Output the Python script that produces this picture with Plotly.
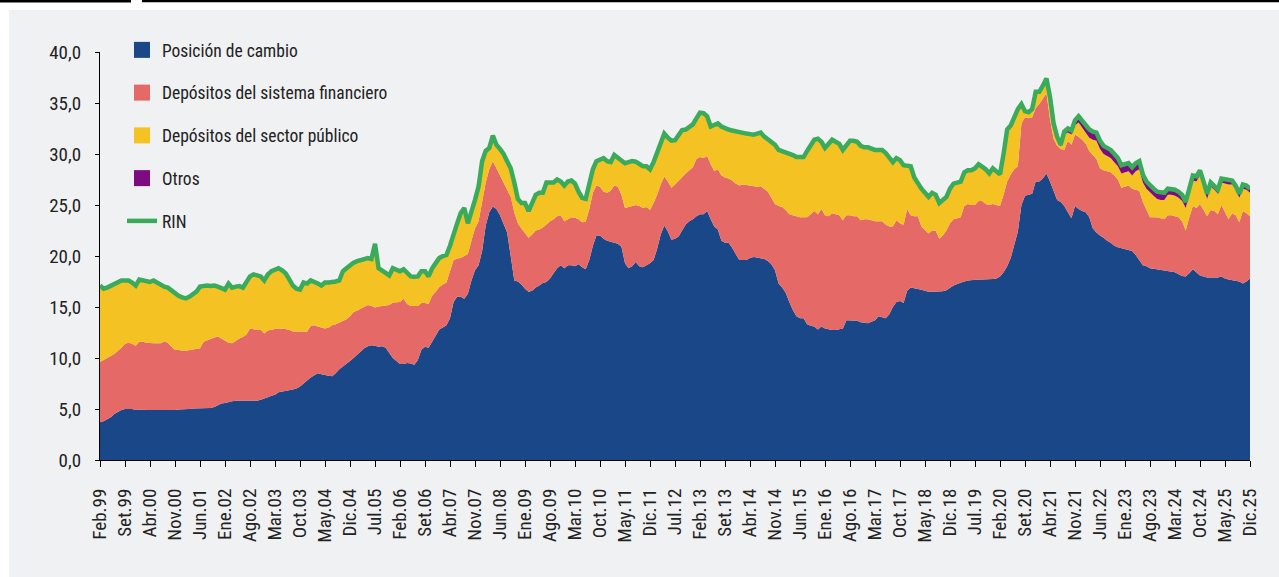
import plotly.graph_objects as go

# ---------------- data (US$ miles de millones, mensual, Feb.99 - Dic.25) ----------------
meses = ["Ene", "Feb", "Mar", "Abr", "May", "Jun", "Jul", "Ago", "Set", "Oct", "Nov", "Dic"]
fechas = [f"{meses[m]}.{y % 100:02d}" for y in range(1999, 2026) for m in range(12)
          if not (y == 1999 and m == 0)]

tick_labels = ["Feb.99", "Set.99", "Abr.00", "Nov.00", "Jun.01", "Ene.02", "Ago.02", "Mar.03",
               "Oct.03", "May.04", "Dic.04", "Jul.05", "Feb.06", "Set.06", "Abr.07", "Nov.07",
               "Jun.08", "Ene.09", "Ago.09", "Mar.10", "Oct.10", "May.11", "Dic.11", "Jul.12",
               "Feb.13", "Set.13", "Abr.14", "Nov.14", "Jun.15", "Ene.16", "Ago.16", "Mar.17",
               "Oct.17", "May.18", "Dic.18", "Jul.19", "Feb.20", "Set.20", "Abr.21", "Nov.21",
               "Jun.22", "Ene.23", "Ago.23", "Mar.24", "Oct.24", "May.25", "Dic.25"]

posicion_cambio = [
    3.7, 3.8, 4.0, 4.2, 4.5, 4.7, 4.9, 5.0, 5.0, 5.0, 4.9,
    4.95, 4.95, 4.9, 4.9, 4.9, 4.9, 4.85, 4.85, 4.9, 4.9, 4.9, 4.95,
    4.95, 5.0, 5.0, 5.05, 5.05, 5.05, 5.1, 5.1, 5.1, 5.2, 5.4, 5.55,
    5.6, 5.7, 5.75, 5.8, 5.8, 5.8, 5.8, 5.8, 5.75, 5.8, 5.9, 6.0,
    6.15, 6.3, 6.4, 6.65, 6.7, 6.75, 6.8, 6.9, 7.0, 7.2, 7.5, 7.8,
    8.1, 8.3, 8.5, 8.4, 8.3, 8.25, 8.2, 8.5, 8.9, 9.15, 9.4, 9.7,
    10.0, 10.35, 10.7, 10.95, 11.15, 11.25, 11.2, 11.1, 11.15, 11.0, 10.5, 10.0,
    9.7, 9.4, 9.4, 9.5, 9.45, 9.35, 9.8, 10.8, 11.1, 11.0, 11.6, 12.2,
    12.8, 13.0, 13.2, 13.9, 15.5, 16.0, 16.0, 15.8, 16.3, 17.6, 18.6, 19.1,
    20.5, 23.0, 24.3, 24.85, 24.6, 24.0, 23.2, 22.3, 20.0, 17.6, 17.5, 17.2,
    16.8, 16.5, 16.6, 16.9, 17.1, 17.35, 17.45, 17.8, 18.3, 18.8, 19.1, 18.8,
    19.1, 19.1, 19.0, 19.2, 18.9, 18.7, 19.6, 21.0, 22.0, 22.0, 21.7, 21.5,
    21.4, 21.3, 21.2, 20.9, 19.3, 18.8, 19.0, 19.4, 19.0, 18.9, 19.1, 19.3,
    19.6, 20.7, 22.1, 23.0, 22.4, 21.6, 21.7, 21.9, 22.5, 23.1, 23.4, 23.6,
    23.9, 24.1, 24.1, 24.4, 23.6, 22.9, 22.6, 21.5, 21.3, 21.3, 20.8, 20.2,
    19.6, 19.6, 19.6, 19.8, 19.9, 19.85, 19.8, 19.7, 19.5, 19.2, 18.6, 17.3,
    16.9, 16.4, 15.5, 14.7, 14.1, 13.9, 13.9, 13.3, 13.15, 13.1, 12.8, 13.1,
    12.9, 12.8, 12.75, 12.75, 12.8, 12.9, 13.7, 13.7, 13.7, 13.65, 13.5, 13.45,
    13.4, 13.55, 13.7, 14.1, 14.0, 13.9, 14.3, 15.0, 15.5, 15.6, 15.4, 16.6,
    16.9, 16.85, 16.75, 16.7, 16.6, 16.5, 16.5, 16.5, 16.5, 16.55, 16.65, 16.9,
    17.1, 17.25, 17.4, 17.5, 17.6, 17.65, 17.7, 17.7, 17.7, 17.7, 17.7, 17.75,
    17.8, 18.0, 18.4, 19.0, 19.8, 21.0, 22.4, 25.0, 25.9, 26.0, 26.1, 27.3,
    27.3, 27.6, 28.1, 27.3, 26.3, 25.5, 25.3, 24.9, 24.3, 23.7, 24.9, 24.6,
    24.4, 24.3, 23.8, 22.7, 22.3, 22.0, 21.8, 21.5, 21.3, 21.0, 20.85, 20.75,
    20.7, 20.6, 20.5, 20.1, 19.6, 19.1, 19.0, 18.8, 18.75, 18.7, 18.6, 18.6,
    18.55, 18.5, 18.4, 18.2, 18.05, 18.0, 18.3, 18.7, 18.4, 18.1, 18.0, 17.9,
    17.9, 17.9, 17.9, 18.0, 17.8, 17.7, 17.65, 17.6, 17.5, 17.3, 17.5, 17.8,
]

depositos_sistema_financiero = [
    5.9, 6.0, 6.0, 6.0, 5.9, 6.0, 6.1, 6.4, 6.5, 6.4, 6.3,
    6.65, 6.65, 6.6, 6.55, 6.55, 6.55, 6.6, 6.8, 6.6, 6.2, 5.9, 5.85,
    5.75, 5.7, 5.75, 5.8, 5.85, 5.9, 6.5, 6.65, 6.8, 6.8, 6.7, 6.35,
    6.1, 5.8, 5.7, 5.9, 6.1, 6.25, 6.5, 7.1, 7.05, 6.95, 6.9, 6.4,
    6.55, 6.5, 6.45, 6.25, 6.2, 6.1, 5.95, 5.7, 5.6, 5.4, 5.1, 4.8,
    5.05, 4.9, 4.6, 4.6, 4.6, 4.75, 5.0, 4.8, 4.55, 4.45, 4.4, 4.4,
    4.5, 4.3, 4.15, 4.05, 4.05, 3.85, 3.75, 3.95, 3.95, 4.1, 4.7, 5.45,
    5.8, 6.1, 6.4, 5.8, 5.65, 5.75, 5.3, 4.6, 4.3, 4.3, 4.5, 4.3,
    4.15, 4.2, 4.2, 4.6, 4.1, 3.75, 3.8, 4.2, 3.9, 3.9, 4.1, 4.3,
    5.0, 4.2, 4.2, 4.45, 4.0, 3.9, 3.9, 4.2, 5.8, 6.7, 5.7, 5.5,
    5.4, 5.3, 5.5, 5.6, 5.5, 5.45, 5.65, 5.6, 5.3, 5.1, 4.9, 4.6,
    4.5, 4.7, 4.75, 4.4, 4.4, 4.65, 5.0, 5.2, 4.9, 4.8, 4.6, 4.7,
    5.0, 5.6, 5.6, 5.1, 5.4, 6.0, 5.9, 5.6, 5.9, 5.8, 5.7, 5.2,
    5.6, 5.3, 4.9, 4.8, 4.9, 5.1, 5.3, 5.5, 5.3, 5.0, 5.0, 5.1,
    5.6, 5.6, 5.5, 5.4, 5.4, 5.4, 5.9, 6.4, 6.4, 6.3, 6.6, 6.9,
    7.3, 7.4, 7.35, 7.1, 6.9, 6.95, 7.05, 6.9, 6.8, 6.5, 6.5, 7.6,
    7.9, 8.1, 8.6, 9.3, 9.8, 9.9, 9.9, 10.5, 10.95, 11.3, 11.3, 11.5,
    11.1, 11.1, 11.45, 11.35, 11.2, 10.6, 10.3, 10.3, 10.2, 10.25, 10.0, 10.15,
    10.2, 9.95, 9.7, 9.3, 9.4, 9.2, 8.6, 7.9, 8.0, 7.6, 7.65, 8.0,
    7.1, 7.05, 7.15, 6.2, 5.9, 5.7, 6.0, 6.0, 5.2, 5.45, 5.85, 6.3,
    6.5, 6.45, 6.4, 7.4, 7.5, 7.35, 7.3, 7.7, 7.7, 7.4, 7.3, 7.35,
    7.2, 6.9, 7.6, 8.3, 8.2, 7.5, 6.4, 8.0, 7.7, 7.5, 7.5, 7.2,
    7.6, 7.8, 7.85, 6.1, 5.2, 5.3, 5.2, 5.5, 7.0, 7.2, 7.0, 7.1,
    7.0, 6.7, 6.5, 7.2, 7.2, 6.6, 6.6, 6.8, 6.9, 6.9, 6.65, 5.95,
    6.1, 6.3, 6.1, 6.4, 6.8, 6.2, 5.5, 5.0, 5.05, 5.1, 5.1, 5.0,
    5.45, 5.5, 5.5, 5.6, 5.35, 4.5, 5.5, 6.2, 6.3, 7.0, 6.5, 6.0,
    6.6, 6.5, 6.2, 7.0, 6.5, 5.9, 6.55, 6.4, 5.8, 7.1, 6.7, 6.1,
]

depositos_sector_publico = [
    7.5, 7.0, 6.9, 6.9, 6.9, 6.8, 6.6, 6.2, 6.1, 6.0, 5.9,
    6.1, 6.0, 6.0, 6.0, 6.15, 5.95, 5.65, 5.35, 5.4, 5.5, 5.5, 5.3,
    5.25, 5.15, 5.25, 5.35, 5.6, 6.05, 5.5, 5.35, 5.15, 5.1, 4.9, 4.9,
    5.0, 5.8, 5.45, 5.3, 5.15, 4.85, 5.2, 5.1, 5.4, 5.4, 5.2, 5.2,
    5.5, 5.7, 5.85, 5.9, 5.7, 5.45, 4.95, 4.5, 4.2, 4.1, 4.8, 4.7,
    4.45, 4.3, 4.2, 4.1, 4.5, 4.4, 4.2, 4.2, 4.15, 4.9, 5.0, 5.0,
    4.85, 4.85, 4.75, 4.7, 4.6, 4.6, 6.25, 3.75, 3.5, 3.3, 2.9, 3.35,
    3.2, 3.0, 2.9, 3.1, 2.9, 2.87, 2.9, 3.1, 3.1, 2.7, 2.7, 2.8,
    2.85, 2.8, 2.7, 2.5, 2.6, 3.45, 4.4, 4.7, 3.0, 2.7, 2.8, 3.4,
    3.8, 3.1, 2.1, 2.5, 2.3, 2.6, 2.9, 2.8, 2.8, 2.9, 2.4, 2.5,
    3.0, 2.6, 3.2, 3.5, 3.6, 3.4, 4.1, 3.8, 3.6, 3.6, 3.3, 3.5,
    3.7, 3.6, 3.35, 2.7, 2.4, 2.25, 2.6, 2.3, 2.4, 2.7, 3.3, 3.1,
    2.8, 3.0, 2.8, 3.3, 4.4, 4.4, 4.4, 4.25, 4.1, 4.1, 4.0, 4.0,
    4.0, 4.1, 4.2, 4.2, 4.3, 4.6, 4.35, 4.4, 4.55, 4.3, 4.2, 4.2,
    4.0, 4.35, 4.4, 3.9, 3.7, 4.6, 4.5, 4.8, 4.8, 4.8, 4.9, 5.1,
    5.2, 5.1, 5.05, 5.05, 5.1, 5.2, 5.25, 5.1, 5.1, 5.4, 5.8, 5.5,
    5.5, 5.7, 6.0, 5.9, 5.8, 5.9, 5.9, 6.5, 6.8, 7.0, 7.4, 6.6,
    6.6, 7.1, 7.2, 7.1, 7.0, 6.9, 6.9, 7.3, 7.4, 7.3, 7.3, 7.06,
    7.06, 7.0, 7.0, 7.0, 7.0, 7.0, 6.7, 6.3, 6.1, 6.2, 5.85, 4.2,
    4.8, 3.8, 3.2, 3.7, 3.7, 3.6, 3.7, 3.5, 3.5, 3.5, 3.3, 3.4,
    3.5, 3.5, 3.5, 3.3, 3.3, 3.4, 3.6, 3.6, 3.4, 3.4, 3.1, 3.5,
    3.3, 3.1, 4.0, 5.1, 4.8, 5.2, 5.6, 1.9, 0.6, 0.6, 0.8, 1.6,
    1.2, 1.3, 1.45, 2.2, 1.5, 0.7, 0.2, 1.5, 0.8, 1.0, 0.9, 1.4,
    1.2, 1.0, 1.3, 1.5, 1.8, 1.9, 1.6, 1.5, 1.4, 1.3, 1.3, 1.4,
    1.4, 1.4, 1.3, 1.8, 2.1, 1.9, 2.1, 2.4, 2.1, 1.8, 1.8, 1.9,
    2.0, 2.0, 2.0, 1.9, 2.0, 2.2, 2.3, 2.5, 2.6, 2.8, 2.3, 1.7,
    2.3, 2.1, 2.0, 2.2, 2.8, 3.4, 2.8, 2.5, 2.4, 2.2, 2.3, 2.3,
]

otros = [
    0, 0, 0, 0, 0, 0, 0, 0, 0, 0, 0,
    0, 0, 0, 0, 0, 0, 0, 0, 0, 0, 0, 0,
    0, 0, 0, 0, 0, 0, 0, 0, 0, 0, 0, 0,
    0, 0, 0, 0, 0, 0, 0, 0, 0, 0, 0, 0,
    0, 0, 0, 0, 0, 0, 0, 0, 0, 0, 0, 0,
    0, 0, 0, 0, 0, 0, 0, 0, 0, 0, 0, 0,
    0, 0, 0, 0, 0, 0, 0, 0, 0, 0, 0, 0,
    0, 0, 0, 0, 0, 0, 0, 0, 0, 0, 0, 0,
    0, 0, 0, 0, 0, 0, 0, 0, 0, 0, 0, 0,
    0, 0, 0, 0, 0, 0, 0, 0, 0, 0, 0, 0,
    0, 0, 0, 0, 0, 0, 0, 0, 0, 0, 0, 0,
    0, 0, 0, 0, 0, 0, 0, 0, 0, 0, 0, 0,
    0, 0, 0, 0, 0, 0, 0, 0, 0, 0, 0, 0,
    0, 0, 0, 0, 0, 0, 0, 0, 0, 0, 0, 0,
    0, 0, 0, 0, 0, 0, 0, 0, 0, 0, 0, 0,
    0, 0, 0, 0, 0, 0, 0, 0, 0, 0, 0, 0,
    0, 0, 0, 0, 0, 0, 0, 0, 0, 0, 0, 0,
    0, 0, 0, 0, 0, 0, 0, 0, 0, 0, 0, 0,
    0, 0, 0, 0, 0, 0, 0, 0, 0, 0, 0, 0,
    0, 0, 0, 0, 0, 0, 0, 0, 0, 0, 0, 0,
    0, 0, 0, 0, 0, 0, 0, 0, 0, 0, 0, 0,
    0, 0, 0, 0, 0, 0, 0, 0, 0, 0, 0, 0,
    0, 0, 0, 0, 0, 0.2, 0.2, 0.3, 0.4, 0.4, 0.5, 0.6,
    0.7, 0.8, 0.8, 0.8, 0.8, 0.8, 0.8, 0.8, 0.8, 0.8, 0.8, 0.8,
    0.8, 0.8, 0.8, 0.8, 0.8, 0.8, 0.7, 0.7, 0.7, 0.7, 0.7, 0.7,
    0.6, 0.6, 0.6, 0.6, 0.6, 0.6, 0.5, 0.5, 0.5, 0.5, 0.5, 0.5,
    0.4, 0.4, 0.4, 0.4, 0.4, 0.4, 0.4, 0.4, 0.4, 0.4, 0.4, 0.4,
]

rin = [
    17.1, 16.8, 16.9, 17.1, 17.3, 17.5, 17.6, 17.6, 17.6, 17.4, 17.1,
    17.7, 17.6, 17.5, 17.45, 17.6, 17.4, 17.1, 17.0, 16.9, 16.6, 16.3, 16.1,
    15.95, 15.85, 16.0, 16.2, 16.5, 17.0, 17.1, 17.1, 17.05, 17.1, 17.0, 16.8,
    16.7, 17.3, 16.9, 17.0, 17.05, 16.9, 17.5, 18.0, 18.2, 18.15, 18.0, 17.6,
    18.2, 18.5, 18.7, 18.8, 18.6, 18.3, 17.7, 17.1, 16.8, 16.7, 17.4, 17.3,
    17.6, 17.5, 17.3, 17.1, 17.4, 17.4, 17.4, 17.5, 17.6, 18.5, 18.8, 19.1,
    19.35, 19.5, 19.6, 19.7, 19.8, 19.7, 21.2, 18.8, 18.6, 18.4, 18.1, 18.8,
    18.7, 18.5, 18.7, 18.4, 18.0, 17.97, 18.0, 18.5, 18.5, 18.0, 18.8, 19.3,
    19.8, 20.0, 20.1, 21.0, 22.2, 23.2, 24.2, 24.7, 23.2, 24.2, 25.5, 26.8,
    29.3, 30.3, 30.6, 31.8, 30.9, 30.5, 30.0, 29.3, 28.6, 27.2, 25.6, 25.2,
    25.2, 24.4, 25.3, 26.0, 26.2, 26.2, 27.2, 27.2, 27.2, 27.5, 27.3, 26.9,
    27.3, 27.4, 27.1, 26.3, 25.7, 25.6, 27.2, 28.5, 29.3, 29.5, 29.6, 29.3,
    29.2, 29.9, 29.6, 29.3, 29.1, 29.2, 29.3, 29.25, 29.0, 28.8, 28.8, 28.5,
    29.2, 30.1, 31.2, 32.0, 31.6, 31.3, 31.35, 31.8, 32.35, 32.4, 32.6, 32.9,
    33.5, 34.05, 34.0, 33.7, 32.7, 32.9, 33.0, 32.7, 32.5, 32.4, 32.3, 32.2,
    32.1, 32.1, 32.0, 31.95, 31.9, 32.0, 32.1, 31.7, 31.4, 31.1, 30.9, 30.4,
    30.3, 30.2, 30.1, 29.9, 29.7, 29.7, 29.7, 30.3, 30.9, 31.4, 31.5, 31.2,
    30.6, 31.0, 31.4, 31.2, 31.0, 30.4, 30.9, 31.3, 31.3, 31.2, 30.8, 30.66,
    30.66, 30.5, 30.4, 30.4, 30.4, 30.1, 29.6, 29.2, 29.6, 29.4, 28.9, 28.8,
    28.8, 27.7, 27.1, 26.6, 26.2, 25.8, 26.2, 26.0, 25.2, 25.5, 25.8, 26.6,
    27.1, 27.2, 27.3, 28.2, 28.4, 28.4, 28.6, 29.0, 28.8, 28.5, 28.1, 28.6,
    28.3, 28.0, 30.0, 32.4, 32.8, 33.7, 34.4, 34.9, 34.2, 34.1, 34.4, 36.1,
    36.1, 36.7, 37.4, 35.6, 33.0, 31.7, 30.9, 32.2, 32.5, 32.3, 33.3, 33.7,
    33.3, 32.8, 32.4, 32.2, 32.1, 31.3, 30.8, 30.6, 30.4, 30.0, 29.6, 28.9,
    29.0, 29.1, 28.7, 29.1, 29.3, 28.0, 27.3, 26.9, 26.6, 26.3, 26.2, 26.2,
    26.6, 26.6, 26.5, 26.3, 26.0, 25.3, 26.6, 27.9, 27.8, 28.4, 27.3, 26.1,
    27.2, 26.9, 26.5, 27.6, 27.5, 27.4, 27.4, 26.9, 26.1, 27.0, 26.9, 26.6,
]

# ---------------- style ----------------
FONT = "Roboto Condensed, DejaVu Sans Condensed, sans-serif"
TXT = "#222222"
C_POS = "#1a4788"
C_DSF = "#e56a67"
C_DSP = "#f4c323"
C_OTR = "#7c0c7f"
C_RIN = "#3aab5b"
PANEL = "#f0f1f3"

series = [
    ("Posición de cambio", posicion_cambio, C_POS),
    ("Depósitos del sistema financiero", depositos_sistema_financiero, C_DSF),
    ("Depósitos del sector público", depositos_sector_publico, C_DSP),
    ("Otros", otros, C_OTR),
]

fig = go.Figure()
for k, (name, vals, col) in enumerate(series):
    fig.add_trace(go.Scatter(
        x=fechas, y=vals, name=name, stackgroup="rin", mode="lines",
        line=dict(width=0, color=col), fillcolor=col,
        legendgroup=f"g{k}", showlegend=False, hoverinfo="x+y+name"))
    # legend entry (square swatch)
    fig.add_trace(go.Scatter(
        x=[None], y=[None], name=name, mode="markers", legendgroup=f"g{k}",
        legendrank=k + 1,
        marker=dict(symbol="square", size=16, color=col), showlegend=True))

fig.add_trace(go.Scatter(
    x=fechas, y=rin, name="RIN", mode="lines", legendgroup="g4", legendrank=5,
    line=dict(color=C_RIN, width=4.5)))

# ---------------- layout ----------------
L, R, T, B = 100, 29, 52, 117
W, H = 1279, 577
pw, ph = W - L - R, H - T - B


def px(x):
    return (x - L) / pw


def py(y):
    return (H - B - y) / ph


shapes = [
    dict(type="rect", xref="paper", yref="paper", x0=px(9), x1=px(1285), y0=py(582), y1=py(10),
         fillcolor=PANEL, line=dict(width=0), layer="below"),
    dict(type="rect", xref="paper", yref="paper", x0=px(-5), x1=px(131), y0=py(2.6), y1=py(-3),
         fillcolor="#000000", line=dict(width=0), layer="below"),
    dict(type="rect", xref="paper", yref="paper", x0=px(142), x1=px(1285), y0=py(2.2), y1=py(-3),
         fillcolor="#000000", line=dict(width=0), layer="below"),
]

fig.update_layout(
    width=W, height=H,
    margin=dict(l=L, r=R, t=T, b=B, pad=0),
    paper_bgcolor="#ffffff", plot_bgcolor="rgba(0,0,0,0)",
    separators=",.",
    font=dict(family=FONT, size=18, color=TXT),
    showlegend=True,
    legend=dict(x=px(122), y=py(32), xanchor="left", yanchor="top",
                bgcolor="rgba(0,0,0,0)", font=dict(family=FONT, size=17.5, color=TXT),
                tracegroupgap=17, itemwidth=30),
    shapes=shapes,
    xaxis=dict(type="category", range=[0, len(fechas) - 1], tickmode="array",
               tickvals=tick_labels, ticktext=tick_labels, tickangle=-90,
               ticks="outside", ticklen=6, tickwidth=1, tickcolor="#000000",
               showline=True, linecolor="#000000", linewidth=1.2, showgrid=False,
               zeroline=False, tickfont=dict(family=FONT, size=19, color=TXT),
               ticklabelstandoff=14),
    yaxis=dict(range=[0, 40], dtick=5, tickformat=".1f", ticks="outside", ticklen=4,
               tickwidth=1, tickcolor="#000000", showline=True, linecolor="#000000",
               linewidth=1.2, showgrid=False, zeroline=False,
               tickfont=dict(family=FONT, size=19, color=TXT), ticklabelstandoff=10),
)

fig.write_html("out.html", config={"displayModeBar": False},
               post_script="document.body.style.margin='0px';")
